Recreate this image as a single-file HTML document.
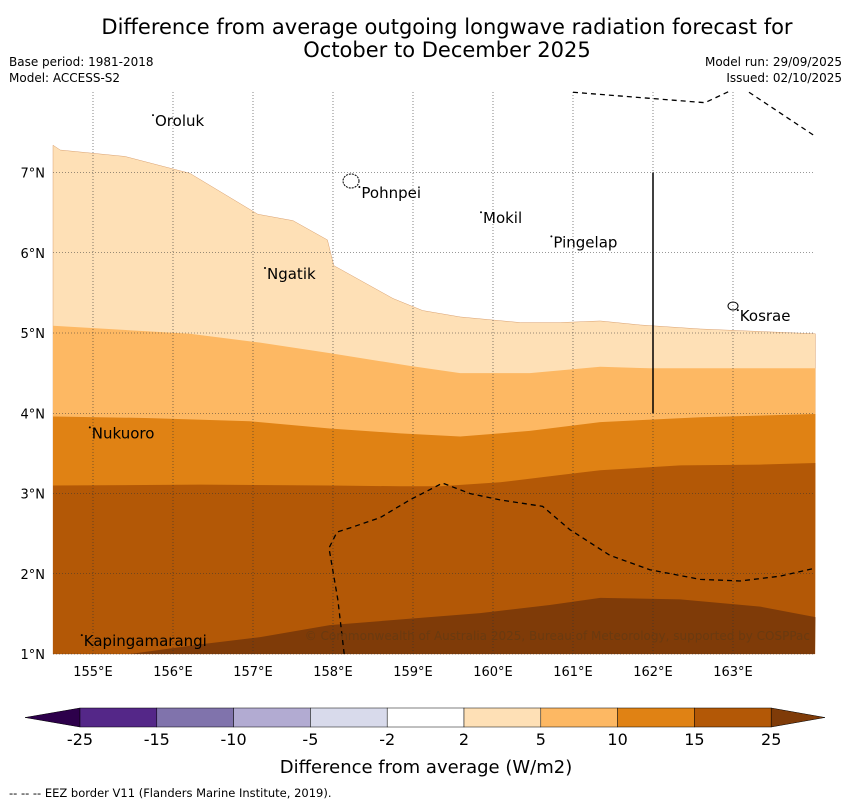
<!DOCTYPE html>
<html><head><meta charset="utf-8"><style>
body{margin:0;background:#fff;font-family:"Liberation Sans","DejaVu Sans",sans-serif}
svg text{font-family:"DejaVu Sans","Liberation Sans",sans-serif}
</style></head><body>
<svg id="c" width="850" height="804" xmlns="http://www.w3.org/2000/svg">
<text x="447" y="34" font-size="21" text-anchor="middle">Difference from average outgoing longwave radiation forecast for</text>
<text x="447" y="57" font-size="21" text-anchor="middle">October to December 2025</text>
<text x="9" y="66" font-size="12">Base period: 1981-2018</text>
<text x="9" y="82" font-size="12">Model: ACCESS-S2</text>
<text x="842" y="66" font-size="12" text-anchor="end">Model run: 29/09/2025</text>
<text x="842" y="82" font-size="12" text-anchor="end">Issued: 02/10/2025</text>
<g id="map"></g>
<g id="cb"></g>
<text x="426" y="773" font-size="18" text-anchor="middle">Difference from average (W/m2)</text>
<text x="9" y="797" font-size="11.5">--  --  -- EEZ border V11 (Flanders Marine Institute, 2019).</text>
</svg>
<script>
const lonTicks=[155,156,157,158,159,160,161,162,163];
const latTicks=[1,2,3,4,5,6,7];
const b1Lon=[154.5,154.59,155.4,156.21,157.06,157.5,157.93,158.01,158.75,159.12,159.59,160.34,160.84,161.34,161.84,162.59,164.03];
const b1Lat=[7.34,7.28,7.2,6.99,6.48,6.4,6.16,5.84,5.43,5.28,5.2,5.13,5.13,5.15,5.1,5.05,4.99];
const b2Lon=[154.5,156.21,157.09,157.96,158.96,159.59,160.46,161.34,161.96,164.03];
const b2Lat=[5.09,4.99,4.88,4.75,4.59,4.5,4.5,4.58,4.56,4.56];
const b3Lon=[154.5,155.71,156.96,157.96,158.84,159.59,160.46,161.34,162.59,164.03];
const b3Lat=[3.96,3.94,3.9,3.81,3.75,3.71,3.78,3.89,3.95,3.99];
const b4Lon=[154.5,156.34,157.96,158.84,159.34,160.09,160.84,161.34,162.34,163.34,164.03];
const b4Lat=[3.1,3.11,3.1,3.09,3.09,3.14,3.23,3.29,3.35,3.36,3.38];
const b5Lon=[154.5,155.46,156.34,157.09,157.96,159.09,159.84,160.71,161.34,162.34,163.34,164.03];
const b5Lat=[1.0,1.0,1.12,1.21,1.36,1.45,1.51,1.61,1.7,1.68,1.59,1.46];
const bands=['#fee0b6','#fdb863','#e08214','#b35806','#7f3b08'];
const cbLabels=['-25','-15','-10','-5','-2','2','5','10','15','25'];
const cbColors=['#542788','#8073ac','#b2abd2','#d8daeb','#ffffff','#fee0b6','#fdb863','#e08214','#b35806'];
const islands=[['Oroluk',155.75,7.64],['Pohnpei',158.33,6.745],['Mokil',159.85,6.43],['Pingelap',160.73,6.13],['Ngatik',157.15,5.735],['Kosrae',163.06,5.21],['Nukuoro',154.96,3.75],['Kapingamarangi',154.86,1.16]];
const eezTop=[[161,8],[162.65,7.87],[162.97,8.02]];
const eezTop2=[[163.2,8],[164.03,7.45]];
const eezLow=[[158.14,1],[158.06,1.68],[157.95,2.32],[158.05,2.52],[158.21,2.57],[158.59,2.7],[158.96,2.92],[159.37,3.13],[159.71,3.0],[160.09,2.92],[160.62,2.84],[160.96,2.55],[161.46,2.23],[161.96,2.05],[162.59,1.93],[163.09,1.91],[163.59,1.97],[164.03,2.07]];
const X0=53,X1=815,Y0=92,Y1=654;
const xs=l=>X0+(l-154.5)*80, ys=a=>Y1-(a-1)*80.25;
const NS='http://www.w3.org/2000/svg';
function mk(t,at,p){const e=document.createElementNS(NS,t);for(const k in at)e.setAttribute(k,at[k]);p.appendChild(e);return e;}
const map=document.getElementById('map');
const bnds=[[b1Lon,b1Lat],[b2Lon,b2Lat],[b3Lon,b3Lat],[b4Lon,b4Lat],[b5Lon,b5Lat]];
bnds.forEach((b,i)=>{
  let d='M'+b[0].map((l,j)=>xs(l)+','+ys(b[1][j])).join('L')+`L${X1},${Y1}L${X0},${Y1}Z`;
  const p=mk('path',{d:d,fill:bands[i],stroke:i==0?'#d9a070':'none','stroke-width':0.5},map);
  
  
});
lonTicks.forEach(l=>{
  const g=mk('line',{x1:xs(l),x2:xs(l),y1:Y0,y2:Y1,stroke:'#333','stroke-width':0.6,'stroke-dasharray':'1,2'},map);
  
  
  const t=mk('text',{x:xs(l),y:Y1+22,'font-size':13,'text-anchor':'middle'},map);t.textContent=l+'°E';
  
  
});
latTicks.forEach(a=>{
  const g=mk('line',{x1:X0,x2:X1,y1:ys(a),y2:ys(a),stroke:'#333','stroke-width':0.6,'stroke-dasharray':'1,2'},map);
  
  
  const t=mk('text',{x:X0-8,y:ys(a)+5,'font-size':13,'text-anchor':'end'},map);t.textContent=a+'°N';
  
  
});
[eezTop,eezTop2,eezLow].forEach(pts=>{
  const p=mk('polyline',{points:pts.map(q=>xs(q[0])+','+ys(q[1])).join(' '),fill:'none',stroke:'#000','stroke-width':1.3,'stroke-dasharray':'5,4'},map);
  
  
});
const vl=mk('line',{x1:xs(162),x2:xs(162),y1:ys(7),y2:ys(4),stroke:'#000','stroke-width':1.5},map);


islands.forEach(s=>{
  const t=mk('text',{x:xs(s[1])+2,y:ys(s[2])+5,'font-size':15},map);t.textContent=s[0];
  
  
  const m=mk('circle',{cx:xs(s[1]),cy:ys(s[2])-6,r:1,fill:'#000'},map);
  
  
});
const pn=mk('ellipse',{cx:351,cy:181,rx:8,ry:7,fill:'none',stroke:'#000','stroke-width':1,'stroke-dasharray':'2,1'},map);


const ko=mk('ellipse',{cx:733,cy:306,rx:5,ry:4,fill:'none',stroke:'#000','stroke-width':1},map);


const cr=mk('text',{x:810,y:640,'font-size':12,'text-anchor':'end',fill:'#6a3a10'},map);
cr.textContent='© Commonwealth of Australia 2025, Bureau of Meteorology, supported by COSPPac';


const cb=document.getElementById('cb');
const cx=i=>80+i*76.8;
const lt=mk('polygon',{points:`25,717.5 ${cx(0)},708 ${cx(0)},727`,fill:'#2d004b',stroke:'#000','stroke-width':0.5},cb);


cbColors.forEach((c,i)=>{
  const r=mk('rect',{x:cx(i),y:708,width:76.8,height:19,fill:c,stroke:'#000','stroke-width':0.5},cb);
  
  
});
const rt=mk('polygon',{points:`${cx(9)},708 825,717.5 ${cx(9)},727`,fill:'#7f3b08',stroke:'#000','stroke-width':0.5},cb);


cbLabels.forEach((l,i)=>{
  const t=mk('text',{x:cx(i),y:745,'font-size':16,'text-anchor':'middle'},cb);t.textContent=l;
  
  
});
</script>
</body></html>
